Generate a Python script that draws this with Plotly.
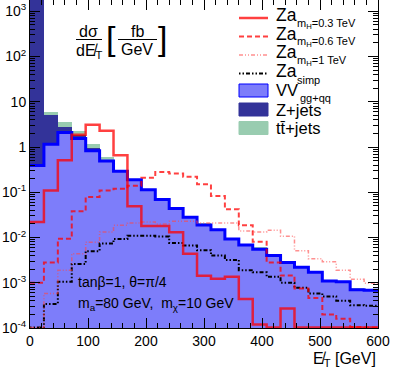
import plotly.graph_objects as go

# missing E_T bins (GeV), 24 GeV wide
bin_edges = [0, 24, 48, 72, 96, 120, 144, 168, 192, 216, 240, 264, 288, 312,
             336, 360, 384, 408, 432, 456, 480, 504, 528, 552, 576, 600]

# backgrounds (fb/GeV), stacked
vv = [0.39, 1.15, 2.1, 1.55, 0.83, 0.49, 0.29, 0.19, 0.113, 0.069, 0.044, 0.028, 0.019,
      0.0148, 0.0093, 0.0068, 0.0055, 0.004, 0.0028, 0.0022, 0.0017, 0.0011, 0.00105,
      0.0007, 0.00068]
zjets = [5000, 3.95, 0.7, 0.3, 0.1, 0.03, 0, 0, 0, 0, 0, 0, 0, 0, 0, 0, 0, 0, 0, 0, 0,
         0, 0, 0, 0]
ttbar = [0, 1.0, 0.7, 0.45, 0.22, 0.07, 0.02, 0.004, 0.002, 0.0015, 0.001, 0.0005, 0.0012,
         0.0004, 0.0003, 0.0003, 0.0006, 0.0002, 0.0001, 0.0001, 0.00012, 0.00003,
         0.00003, 0.00003, 0.00003]

# signals (fb/GeV)
za_300 = [0.022, 0.11, 0.51, 1.86, 3.1, 2.3, 0.66, 0.049, 0.018, 0.018, 0.013, 0.0044,
          0.00143, 0.00123, 0.00136, 0.00044, 0.00012, 0.000103, 0.00027, 0.000103,
          0.000103, 0.000103, 0.000103, 0.000103, 0.000103]
za_600 = [0.001, 0.0028, 0.0094, 0.038, 0.079, 0.11, 0.12, 0.14, 0.21, 0.28, 0.26, 0.22,
          0.15, 0.083, 0.042, 0.0186, 0.0081, 0.0028, 0.00144, 0.00075, 0.00046, 0.0002,
          0.00016, 0.000105, 0.000103]
za_1000 = [0.000103, 0.00058, 0.0019, 0.0044, 0.0079, 0.0133, 0.0186, 0.021, 0.022, 0.02,
           0.023, 0.023, 0.021, 0.021, 0.021, 0.014, 0.0133, 0.0144, 0.0107, 0.0051,
           0.0034, 0.0029, 0.0019, 0.0012, 0.00098]
za_simp = [0.000103, 0.00034, 0.00105, 0.0026, 0.005, 0.0074, 0.0093, 0.011, 0.011,
           0.0105, 0.0076, 0.0067, 0.0052, 0.004, 0.0032, 0.0019, 0.0017, 0.00135, 0.001,
           0.00078, 0.00058, 0.0005, 0.0004, 0.00032, 0.00031]

ytick_vals = [1e-4, 1e-3, 1e-2, 1e-1, 1, 10, 100, 1000]
ytick_text = ["10<sup>-4</sup>", "10<sup>-3</sup>", "10<sup>-2</sup>", "10<sup>-1</sup>",
              "1", "10", "10<sup>2</sup>", "10<sup>3</sup>"]

FONT = "Liberation Sans, Arial, sans-serif"
C_VV = "rgb(125,125,250)"
C_VV_LINE = "#0000ff"
C_Z = "#333399"
C_TT = "#99ccb0"
C_RED = "rgba(255,0,0,0.75)"
C_PINK = "rgba(255,70,70,0.6)"

centers = [(a + b) / 2 for a, b in zip(bin_edges[:-1], bin_edges[1:])]
widths = [b - a for a, b in zip(bin_edges[:-1], bin_edges[1:])]

# plot area in pixels (for annotations)
L, R, T, B = 30, 378, 0, 328


def xp(px):
    return (px - L) / (R - L)


def yp(py):
    return (B - py) / (B - T)


def step(vals):
    return bin_edges, list(vals) + [vals[-1]]


fig = go.Figure()
for vals, col in [(vv, C_VV), (zjets, C_Z), (ttbar, C_TT)]:
    fig.add_trace(go.Bar(x=centers, y=vals, width=widths, marker=dict(color=col, line=dict(width=0)),
                         showlegend=False))

x, y = step(vv)
fig.add_trace(go.Scatter(x=x, y=y, mode="lines", line=dict(color=C_VV_LINE, width=3, shape="hv"),
                         showlegend=False))

signal_styles = [
    (za_simp, dict(color="black", width=2, dash="1.5px,2px,1.5px,2px,4px,2px")),
    (za_1000, dict(color=C_PINK, width=1.5, dash="4px,2px,1px,2px,1px,2px")),
    (za_600, dict(color=C_RED, width=2, dash="5px,3px")),
    (za_300, dict(color=C_RED, width=2.5)),
]
for vals, ln in signal_styles:
    x, y = step(vals)
    fig.add_trace(go.Scatter(x=x, y=y, mode="lines", line=dict(shape="hv", **ln), showlegend=False))

annotations = []
shapes = []


def text(t, px, py, size, xanchor="left"):
    annotations.append(dict(text=t, x=xp(px), y=yp(py), xref="paper", yref="paper",
                            showarrow=False, xanchor=xanchor, yanchor="middle",
                            font=dict(family=FONT, size=size, color="black")))


def hline(x0, x1, py, **ln):
    shapes.append(dict(type="line", xref="paper", yref="paper", x0=xp(x0), x1=xp(x1),
                       y0=yp(py), y1=yp(py), line=ln))


# d sigma / d MET [fb/GeV]
text("dσ", 88, 32, 16, "center")
hline(76, 102, 39.5, color="black", width=1)
text("dE̸<sub>T</sub>", 89, 51, 16, "center")
text("[", 111, 38, 34, "center")
text("fb", 137, 32, 16, "center")
hline(118, 157, 39.5, color="black", width=1)
text("GeV", 137, 49, 16, "center")
text("]", 162, 38, 34, "center")

text("tanβ=1, θ=π/4", 76, 282, 14)
text("m<sub>a</sub>=80 GeV,  m<sub>χ</sub>=10 GeV", 76, 304, 14)
text("E̸<sub>T</sub> [GeV]", 378, 359, 16, "right")

# legend
leg_rows = [
    ("m<sub>H</sub>=0.3 TeV", dict(color=C_RED, width=2.5)),
    ("m<sub>H</sub>=0.6 TeV", dict(color=C_RED, width=2, dash="5px,3px")),
    ("m<sub>H</sub>=1 TeV", dict(color=C_PINK, width=1.5, dash="4px,2px,1px,2px,1px,2px")),
    ("simp", dict(color="black", width=2, dash="1.5px,2px,1.5px,2px,4px,2px")),
]
for i, (sub, ln) in enumerate(leg_rows):
    yc = 15 + 18.5 * i
    hline(239, 268, yc + 3, **ln)
    text("Za", 274, yc, 17.5)
    text(sub, 295, yc + 9, 11)

boxes = [("VV", C_VV, C_VV_LINE, 90.5), ("Z+jets", C_Z, C_Z, 109.5), ("tt̄+jets", C_TT, C_TT, 128)]
for name, fill, edge, yc in boxes:
    shapes.append(dict(type="rect", xref="paper", yref="paper", x0=xp(239), x1=xp(268),
                       y0=yp(yc - 6.5), y1=yp(yc + 6.5), fillcolor=fill,
                       line=dict(color=edge, width=1)))
    text(name, 274, yc, 16.5)
text("gg+qq", 298, 98, 11)

fig.update_layout(
    width=399, height=371,
    margin=dict(l=L, r=399 - R, t=T, b=371 - B),
    barmode="stack", bargap=0,
    plot_bgcolor="white", paper_bgcolor="white",
    showlegend=False,
    font=dict(family=FONT, size=14, color="black"),
    annotations=annotations,
    shapes=shapes,
)
fig.update_xaxes(
    range=[0, 600], tickvals=[0, 100, 200, 300, 400, 500, 600],
    ticks="inside", ticklen=10, tickcolor="black",
    minor=dict(ticks="inside", ticklen=5, dtick=20, tick0=0, tickcolor="black"),
    showline=True, linecolor="black", linewidth=1, mirror="allticks",
    showgrid=False, zeroline=False, tickfont=dict(size=14),
)
minor_y = [m * 10 ** d for d in range(-4, 4) for m in range(2, 10)]
fig.update_yaxes(
    type="log", range=[-4, 3.25], tickvals=ytick_vals, ticktext=ytick_text,
    ticks="inside", ticklen=10, tickcolor="black",
    minor=dict(ticks="inside", ticklen=5, tickvals=minor_y, tickcolor="black"),
    showline=True, linecolor="black", linewidth=1, mirror="allticks",
    showgrid=False, zeroline=False, tickfont=dict(size=14),
)

fig.write_html("out.html", config={"displayModeBar": False},
               post_script="document.body.style.margin='0';")
